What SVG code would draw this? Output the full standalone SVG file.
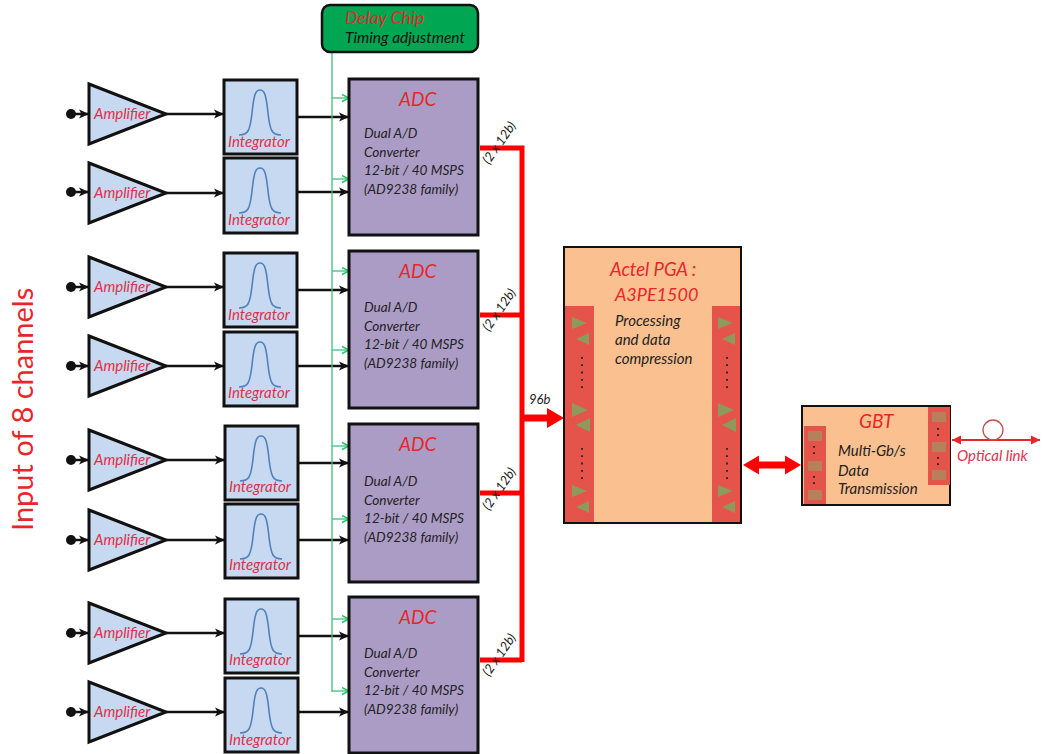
<svg xmlns="http://www.w3.org/2000/svg" xmlns:xlink="http://www.w3.org/1999/xlink" width="1042" height="754" viewBox="0 0 1042 754">
<style>
text{font-family:Lato,"Open Sans","Liberation Sans",sans-serif;font-style:italic}
.amp{fill:#c6d9f1;stroke:#111;stroke-width:3;stroke-linejoin:miter}
.int{fill:#c6d9f1;stroke:#111;stroke-width:3}
.adc{fill:#ab9cc6;stroke:#111;stroke-width:3}
.curve{fill:none;stroke:#4f81bd;stroke-width:1.6}
.rl{fill:#e0304a;font-size:15px}
.rt{fill:#e8262a;font-size:19px}
.bl{fill:#222;font-size:13.600px}
.wire{stroke:#111;stroke-width:2.500;fill:none}
.gw{stroke:#3fbf7f;stroke-width:1.300;fill:none}
.red{stroke:#f00;stroke-width:5;fill:none}
.col{fill:#e5544b}
.tri{fill:#8f9a5a}
.dots{stroke:#222;stroke-width:1.800;stroke-dasharray:1.800 5.500;fill:none}
.bits{fill:#222;font-size:13px}
</style>
<defs>
<marker id="k" markerWidth="11" markerHeight="11" refX="10" refY="5" orient="auto" markerUnits="userSpaceOnUse"><path d="M0 0.500L10 5L0 9.500L2.500 5z" fill="#111"/></marker>
<marker id="g" markerWidth="10" markerHeight="10" refX="8" refY="4" orient="auto" markerUnits="userSpaceOnUse"><path d="M1 0.500L8 4L1 7.500" fill="none" stroke="#1fc96a" stroke-width="1.500"/></marker>
<path id="gauss" d="M-21 18C-12 18-10 14-8 -4C-6 -24-4 -27 0 -27C4 -27 6 -24 8 -4C10 14 12 18 21 18" class="curve"/>
<path id="ampshape" d="M0 -30L77 0L0 30z" class="amp"/>
</defs>

<g id="connectors">
<g class="wires">
<path class="wire" d="M71 114H89" marker-end="url(#k)"/><path class="wire" d="M166 114H224" marker-end="url(#k)"/><path class="wire" d="M297 117H349" marker-end="url(#k)"/>
<path class="wire" d="M71 192H89" marker-end="url(#k)"/><path class="wire" d="M166 193H224" marker-end="url(#k)"/><path class="wire" d="M297 192H349" marker-end="url(#k)"/>
<path class="wire" d="M71 287H89" marker-end="url(#k)"/><path class="wire" d="M166 287H224" marker-end="url(#k)"/><path class="wire" d="M297 290H349" marker-end="url(#k)"/>
<path class="wire" d="M71 366H89" marker-end="url(#k)"/><path class="wire" d="M166 366H224" marker-end="url(#k)"/><path class="wire" d="M297 366H349" marker-end="url(#k)"/>
<path class="wire" d="M71 460H89" marker-end="url(#k)"/><path class="wire" d="M166 460H225" marker-end="url(#k)"/><path class="wire" d="M298 463H349" marker-end="url(#k)"/>
<path class="wire" d="M71 540H89" marker-end="url(#k)"/><path class="wire" d="M166 540H225" marker-end="url(#k)"/><path class="wire" d="M298 540H349" marker-end="url(#k)"/>
<path class="wire" d="M71 633H89" marker-end="url(#k)"/><path class="wire" d="M166 633H225" marker-end="url(#k)"/><path class="wire" d="M298 636H349" marker-end="url(#k)"/>
<path class="wire" d="M71 712H89" marker-end="url(#k)"/><path class="wire" d="M166 712H225" marker-end="url(#k)"/><path class="wire" d="M298 712H349" marker-end="url(#k)"/>
</g>
<path class="gw" d="M332 52V692"/>
<path class="gw" d="M332 98H349" marker-end="url(#g)"/><path class="gw" d="M332 179H349" marker-end="url(#g)"/>
<path class="gw" d="M332 271H349" marker-end="url(#g)"/><path class="gw" d="M332 350H349" marker-end="url(#g)"/>
<path class="gw" d="M332 446H349" marker-end="url(#g)"/><path class="gw" d="M332 519H349" marker-end="url(#g)"/>
<path class="gw" d="M332 619H349" marker-end="url(#g)"/><path class="gw" d="M332 691H349" marker-end="url(#g)"/>
<path class="red" d="M480 148H522V662M480 315H522M480 493H522M480 660H522"/>
<path d="M524 414.500H547V408L564 418L547 428V421.500H524z" fill="#f00"/>
<path d="M743 465L759 455.500V461.500H785V455.500L801 465L785 474.500V468.500H759V474.500z" fill="#f00"/>
<path d="M952 440H1040" stroke="#e8262a" stroke-width="1.800" fill="none"/>
<path d="M952 440L961 435.500V444.500zM1040 440L1031 435.500V444.500z" fill="#e8262a"/>
<circle cx="993" cy="430" r="10" fill="none" stroke="#c0504d" stroke-width="1.300"/>
</g>

<g id="delay-chip"><rect x="322" y="5" width="156" height="47" rx="8" fill="#00a651" stroke="#111" stroke-width="2.500"/>
<text x="345" y="24" style="font-size:17.500px;fill:#e8262a">Delay Chip</text><text x="345" y="43" style="font-size:15.500px;fill:#111">Timing adjustment</text></g>

<g id="amp1"><use xlink:href="#ampshape" x="89" y="114"/><circle cx="71" cy="114" r="5" fill="#111"/><text class="rl" x="94" y="119">Amplifier</text></g>
<g id="amp2"><use xlink:href="#ampshape" x="89" y="193"/><circle cx="71" cy="192" r="5" fill="#111"/><text class="rl" x="94" y="198">Amplifier</text></g>
<g id="amp3"><use xlink:href="#ampshape" x="89" y="287"/><circle cx="71" cy="287" r="5" fill="#111"/><text class="rl" x="94" y="292">Amplifier</text></g>
<g id="amp4"><use xlink:href="#ampshape" x="89" y="366"/><circle cx="71" cy="366" r="5" fill="#111"/><text class="rl" x="94" y="371">Amplifier</text></g>
<g id="amp5"><use xlink:href="#ampshape" x="89" y="460"/><circle cx="71" cy="460" r="5" fill="#111"/><text class="rl" x="94" y="465">Amplifier</text></g>
<g id="amp6"><use xlink:href="#ampshape" x="89" y="540"/><circle cx="71" cy="540" r="5" fill="#111"/><text class="rl" x="94" y="545">Amplifier</text></g>
<g id="amp7"><use xlink:href="#ampshape" x="89" y="633"/><circle cx="71" cy="633" r="5" fill="#111"/><text class="rl" x="94" y="638">Amplifier</text></g>
<g id="amp8"><use xlink:href="#ampshape" x="89" y="712"/><circle cx="71" cy="712" r="5" fill="#111"/><text class="rl" x="94" y="717">Amplifier</text></g>

<g id="int1"><rect class="int" x="224" y="80" width="73" height="74"/><use xlink:href="#gauss" x="260" y="117"/><text class="rl" x="228" y="147">Integrator</text></g>
<g id="int2"><rect class="int" x="224" y="158" width="73" height="75"/><use xlink:href="#gauss" x="260" y="195"/><text class="rl" x="228" y="225">Integrator</text></g>
<g id="int3"><rect class="int" x="224" y="253" width="73" height="74"/><use xlink:href="#gauss" x="260" y="290"/><text class="rl" x="228" y="320">Integrator</text></g>
<g id="int4"><rect class="int" x="224" y="332" width="73" height="74"/><use xlink:href="#gauss" x="260" y="369"/><text class="rl" x="228" y="398">Integrator</text></g>
<g id="int5"><rect class="int" x="225" y="426" width="73" height="74"/><use xlink:href="#gauss" x="261" y="463"/><text class="rl" x="229" y="492">Integrator</text></g>
<g id="int6"><rect class="int" x="225" y="504" width="73" height="74"/><use xlink:href="#gauss" x="261" y="541"/><text class="rl" x="229" y="570">Integrator</text></g>
<g id="int7"><rect class="int" x="225" y="599" width="73" height="74"/><use xlink:href="#gauss" x="261" y="636"/><text class="rl" x="229" y="665">Integrator</text></g>
<g id="int8"><rect class="int" x="225" y="678" width="73" height="74"/><use xlink:href="#gauss" x="261" y="715"/><text class="rl" x="229" y="745">Integrator</text></g>

<g id="adc1"><rect class="adc" x="349" y="79" width="129" height="156"/><text class="rt" x="399" y="106">ADC</text><text class="bl" x="364" y="138">Dual A/D</text><text class="bl" x="364" y="157">Converter</text><text class="bl" x="364" y="175">12-bit / 40 MSPS</text><text class="bl" x="364" y="194">(AD9238 family)</text></g>
<g id="adc2"><rect class="adc" x="349" y="251" width="129" height="157"/><text class="rt" x="399" y="278">ADC</text><text class="bl" x="364" y="312">Dual A/D</text><text class="bl" x="364" y="331">Converter</text><text class="bl" x="364" y="349">12-bit / 40 MSPS</text><text class="bl" x="364" y="368">(AD9238 family)</text></g>
<g id="adc3"><rect class="adc" x="349" y="424" width="129" height="158"/><text class="rt" x="399" y="451">ADC</text><text class="bl" x="364" y="486">Dual A/D</text><text class="bl" x="364" y="505">Converter</text><text class="bl" x="364" y="523">12-bit / 40 MSPS</text><text class="bl" x="364" y="542">(AD9238 family)</text></g>
<g id="adc4"><rect class="adc" x="349" y="597" width="129" height="156"/><text class="rt" x="399" y="624">ADC</text><text class="bl" x="364" y="658">Dual A/D</text><text class="bl" x="364" y="677">Converter</text><text class="bl" x="364" y="695">12-bit / 40 MSPS</text><text class="bl" x="364" y="714">(AD9238 family)</text></g>

<g id="labels">
<text class="bits" transform="translate(489,165) rotate(-55)">(2 x 12b)</text>
<text class="bits" transform="translate(489,332) rotate(-55)">(2 x 12b)</text>
<text class="bits" transform="translate(489,511) rotate(-55)">(2 x 12b)</text>
<text class="bits" transform="translate(489,677) rotate(-55)">(2 x 12b)</text>
<text x="529" y="404" style="font-size:13px;fill:#222">96b</text>
<text transform="translate(33,531) rotate(-90)" style="font-size:29px;fill:#e8262a;font-style:normal">Input of 8 channels</text>
</g>

<g id="fpga">
<rect x="564" y="247" width="177" height="276" fill="#fac090" stroke="#111" stroke-width="2"/>
<rect class="col" x="565" y="306" width="29" height="216"/><rect class="col" x="712" y="306" width="28" height="216"/>
<g class="tri">
<path d="M572 317L587 323L572 329zM589 333L576 339L589 345z"/>
<path d="M572 403L588 410L572 417zM590 418L576 425L590 432z"/>
<path d="M572 485L587 491L572 497zM589 501L576 507L589 513z"/>
<path d="M718 317L733 323L718 329zM735 333L722 339L735 345z"/>
<path d="M718 403L734 410L718 417zM736 418L722 425L736 432z"/>
<path d="M718 485L733 491L718 497zM735 501L722 507L735 513z"/>
</g>
<path class="dots" d="M582 357V390M582 448V481M727 357V390M727 448V481"/>
<text x="610" y="276" style="font-size:18.500px;fill:#e8262a">Actel PGA :</text>
<text x="615" y="301" style="font-size:18px;fill:#e8262a">A3PE1500</text>
<text x="615" y="326" style="font-size:15px;fill:#222">Processing</text>
<text x="615" y="345" style="font-size:15px;fill:#222">and  data</text>
<text x="615" y="364" style="font-size:15px;fill:#222">compression</text>
</g>

<g id="gbt">
<rect x="802" y="406" width="148" height="99" fill="#fac090" stroke="#111" stroke-width="2"/>
<rect class="col" x="804" y="426" width="22" height="78"/><rect class="col" x="928" y="407" width="22" height="78"/>
<g fill="#b5805a"><rect x="808" y="431" width="14" height="10"/><rect x="808" y="461" width="14" height="10"/><rect x="808" y="490" width="14" height="10"/><rect x="932" y="412" width="14" height="10"/><rect x="932" y="442" width="14" height="10"/><rect x="932" y="470" width="14" height="10"/></g>
<path class="dots" d="M814 446V458M814 476V488M938 428V440M938 457V468" style="stroke-dasharray:1.800 4.500"/>
<text x="859" y="428" style="font-size:19px;fill:#e8262a">GBT</text>
<text x="838" y="456" style="font-size:15px;fill:#222">Multi-Gb/s</text>
<text x="838" y="476" style="font-size:15px;fill:#222">Data</text>
<text x="838" y="494" style="font-size:15px;fill:#222">Transmission</text>
</g>
<g id="optical"><text x="957" y="461" style="font-size:15px;fill:#e0304a">Optical link</text></g>
</svg>
